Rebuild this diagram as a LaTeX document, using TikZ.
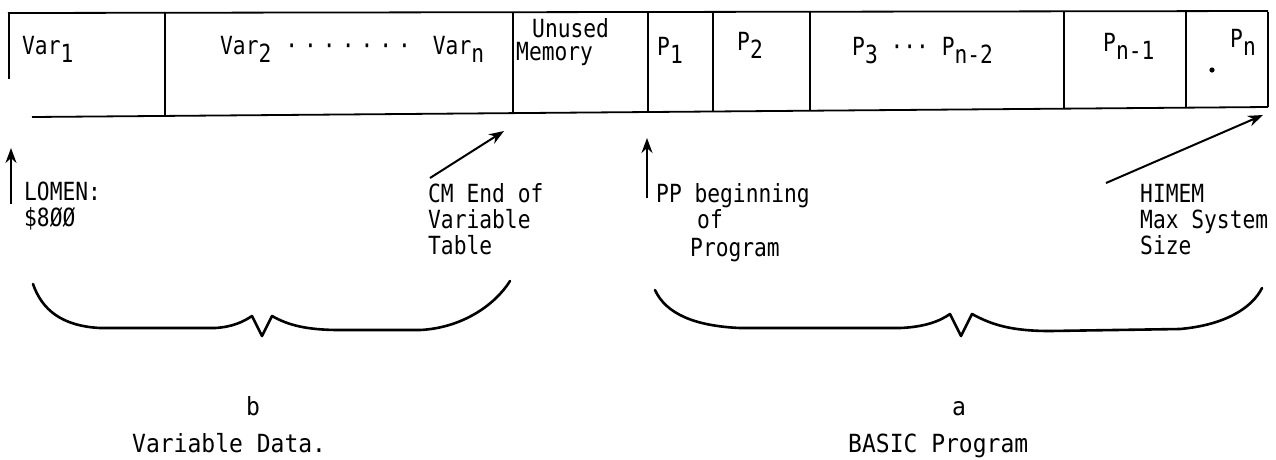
\documentclass[tikz,border=0pt]{standalone}
\usepackage{fontspec}
\newfontfamily\tw[FakeStretch=0.85]{DejaVu Sans Mono}
\newfontfamily\twb[FakeStretch=0.92]{DejaVu Sans Mono}
\usetikzlibrary{arrows.meta}
\newcommand\dn[1]{\raisebox{-8pt}{#1}}
\newcommand\dd{\hspace{6pt}·}
\begin{document}
\begin{tikzpicture}[x=1pt,y=-1pt,
  txt/.style={font=\tw\fontsize{25}{30}\selectfont, inner sep=0pt, anchor=base west},
  txtb/.style={font=\twb\fontsize{25}{30}\selectfont, inner sep=0pt, anchor=base west},
  ln/.style={line width=1.8pt},
  brace/.style={line width=2.6pt, line join=round, line cap=round},
  arr/.style={line width=2pt, -{Stealth[length=15pt,width=11pt]}}]
\useasboundingbox (0,0) rectangle (1276,459);
% memory strip
\draw[ln] (8,13) -- (1268,11);
\draw[ln] (32,117) -- (1268,107);
\draw[ln] (9,13) -- (9,79);
\foreach \x/\yb in {165/115.9, 513/113.1, 648/112, 713/111.5, 810/110.7, 1064/108.7, 1186/107.7, 1268/107}
  \draw[ln] (\x,12) -- (\x,\yb);
% strip labels
\node[txt] (var1) at (22,54) {Var\dn{1}};
\node[txt] (varn) at (220,54) {Var\dn{2}\hspace{14pt}·\dd\dd\dd\dd\dd\dd\hspace{22pt}Var\dn{n}};
\node[txt] (unused) at (532,37) {Unused};
\node[txt] (memory) at (516,60) {Memory};
\node[txt] (p1) at (657,55) {P\dn{1}};
\node[txt] (p2) at (737,50) {P\dn{2}};
\node[txt] (p3) at (852,55) {P\dn{3} ··· P\dn{n-2}};
\node[txt] (pn1) at (1103,51) {P\dn{n-1}};
\node[txt] (pn) at (1230,47) {P\dn{n}};
\fill (1212,70) circle (2.6);
% pointer labels
\node[txt] (lomen) at (24,200) {LOMEN:};
\node[txt] (lomenval) at (24,226) {\$8ØØ};
\node[txt] (cm1) at (428,202) {CM End of};
\node[txt] (cm2) at (428,228) {Variable};
\node[txt] (cm3) at (428,254) {Table};
\node[txt] (pp1) at (656,202) {PP beginning};
\node[txt] (pp2) at (697,228) {of};
\node[txt] (pp3) at (690,256) {Program};
\node[txt] (hi1) at (1140,202) {HIMEM};
\node[txt] (hi2) at (1140,228) {Max System};
\node[txt] (hi3) at (1140,254) {Size};
% arrows
\coordinate (lomenTail) at (11,204);
\coordinate (lomenHead) at (11,148);
\coordinate (cmTail) at (430,178);
\coordinate (cmHead) at (504,131);
\coordinate (ppTail) at (647,198);
\coordinate (ppHead) at (647,138);
\coordinate (hiTail) at (1106,183);
\coordinate (hiHead) at (1263,115);
\draw[arr] (lomenTail) -- (lomenHead);
\draw[arr] (cmTail) -- (cmHead);
\draw[arr] (ppTail) -- (ppHead);
\draw[arr] (hiTail) -- (hiHead);
% braces
\draw[brace] (33,284) .. controls (42,310) and (62,326) .. (100,328) -- (215,328)
  .. controls (232,327) and (243,322) .. (252,316) -- (262,336) -- (272,316)
  .. controls (288,325) and (306,330) .. (340,330) -- (420,330)
  .. controls (462,328) and (495,305) .. (510,281);
\draw[brace] (655,290) .. controls (666,314) and (695,326) .. (740,328) -- (900,328)
  .. controls (925,327) and (940,321) .. (950,314) -- (961,336) -- (972,314)
  .. controls (992,325) and (1012,331) .. (1050,331) -- (1180,329)
  .. controls (1225,325) and (1252,308) .. (1262,288);
% bottom labels
\node[txtb] (b) at (246,415) {b};
\node[txtb] (a) at (952,415) {a};
\node[txtb] (vd) at (132,452) {Variable Data.};
\node[txtb] (bp) at (848,452) {BASIC Program};
\end{tikzpicture}
\end{document}
